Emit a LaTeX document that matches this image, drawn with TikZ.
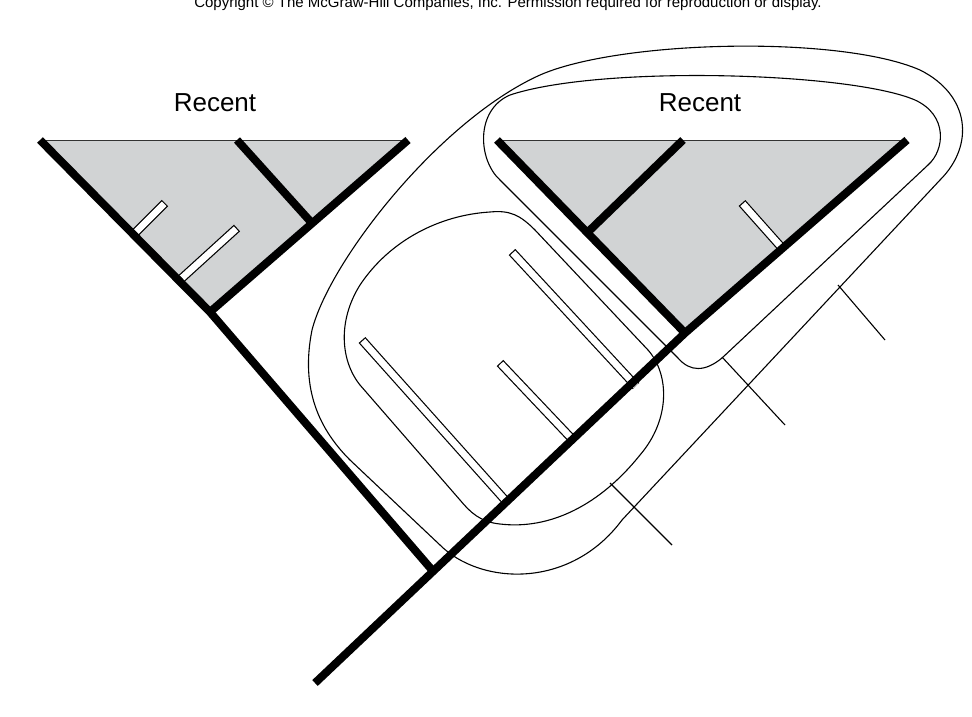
\documentclass[tikz,border=0pt]{standalone}
\usepackage{fontspec}
\setmainfont{Liberation Sans}
\begin{document}
\begin{tikzpicture}[x=1pt,y=-1pt,
  thick line/.style={line width=8pt,line cap=butt,line join=miter},
  thin line/.style={line width=1.1pt},
  loop/.style={line width=1.1pt,line join=round},
  label/.style={font=\fontsize{26}{28}\selectfont}]
\definecolor{tri}{RGB}{209,211,212}
\useasboundingbox (0,0) rectangle (972,716);
\node[font=\fontsize{15}{16}\selectfont, anchor=base] (copy) at (508,7) {Copyright © The McGraw-Hill Companies, Inc. Permission required for reproduction or display.};
\node[label] (recL) at (215,103) {Recent};
\node[label] (recR) at (700,103) {Recent};
% key points
\coordinate (root) at (315,683);
\coordinate (J) at (432,570);
\coordinate (RA) at (685,333);
\coordinate (RR) at (907,140);
\coordinate (RL) at (497,140);
\coordinate (LL) at (40,140);
\coordinate (LA) at (210,312);
\coordinate (LR) at (408,140);
% outer loop
\draw[loop] (622,520) -- (940,180) .. controls (975,145) and (970,95) .. (920,70)
  .. controls (840,35) and (620,40) .. (540,75)
  .. controls (440,120) and (330,260) .. (312,330)
  .. controls (300,390) and (320,430) .. (350,460)
  -- (440,545) .. controls (480,585) and (570,590) .. (622,520) -- cycle;
% inner loop
\draw[loop] (500,180) -- (678,358) .. controls (690,372) and (705,372) .. (722,358)
  -- (928,165) .. controls (945,150) and (948,115) .. (915,100)
  .. controls (850,72) and (600,65) .. (510,95)
  .. controls (475,110) and (478,160) .. (500,180) -- cycle;
% middle loop
\draw[loop] (490,212) .. controls (510,210) and (520,215) .. (535,230) -- (648,350)
  .. controls (670,375) and (670,420) .. (640,455)
  .. controls (600,505) and (550,530) .. (500,524)
  .. controls (480,522) and (470,512) .. (460,500) -- (360,385)
  .. controls (340,360) and (338,320) .. (360,285)
  .. controls (390,240) and (440,215) .. (490,212) -- cycle;
% leader lines
\coordinate (l1a) at (838,285); \coordinate (l1b) at (885,340);
\coordinate (l2a) at (722,357); \coordinate (l2b) at (785,425);
\coordinate (l3a) at (610,483); \coordinate (l3b) at (672,545);
\draw[thin line] (l1a) -- (l1b);
\draw[thin line] (l2a) -- (l2b);
\draw[thin line] (l3a) -- (l3b);
% gray triangles
\fill[tri] (LL) -- (LR) -- (LA) -- cycle;
\fill[tri] (RL) -- (RR) -- (RA) -- cycle;
\draw[line width=1pt, black!80] (LL) -- (LR);
\draw[line width=1pt, black!80] (RL) -- (RR);
% white bars
\foreach \ax/\ay/\bx/\by [count=\i] in {165/203/135/233, 237/228/182/278, 742/203/782/248, 512/252/636/386, 362/340/505/500, 500/363/573/440}{
  \coordinate (bt\i) at (\ax,\ay); \coordinate (bb\i) at (\bx,\by);
  \draw[line width=9pt] (bt\i) -- (bb\i);
  \draw[line width=6.6pt, white, shorten <=1.2pt] (bt\i) -- (bb\i);
}
% thick branches
\draw[thick line] (root) -- (RA) -- (RR);
\draw[thick line] (RL) -- (RA);
\coordinate (rb1) at (683,140); \coordinate (rb2) at (588,232);
\draw[thick line] (rb1) -- (rb2);
\draw[thick line] (LL) -- (LA) -- (J);
\draw[thick line] (LR) -- (LA);
\coordinate (lb1) at (237,140); \coordinate (lb2) at (310,221);
\draw[thick line] (lb1) -- (lb2);
\end{tikzpicture}
\end{document}
